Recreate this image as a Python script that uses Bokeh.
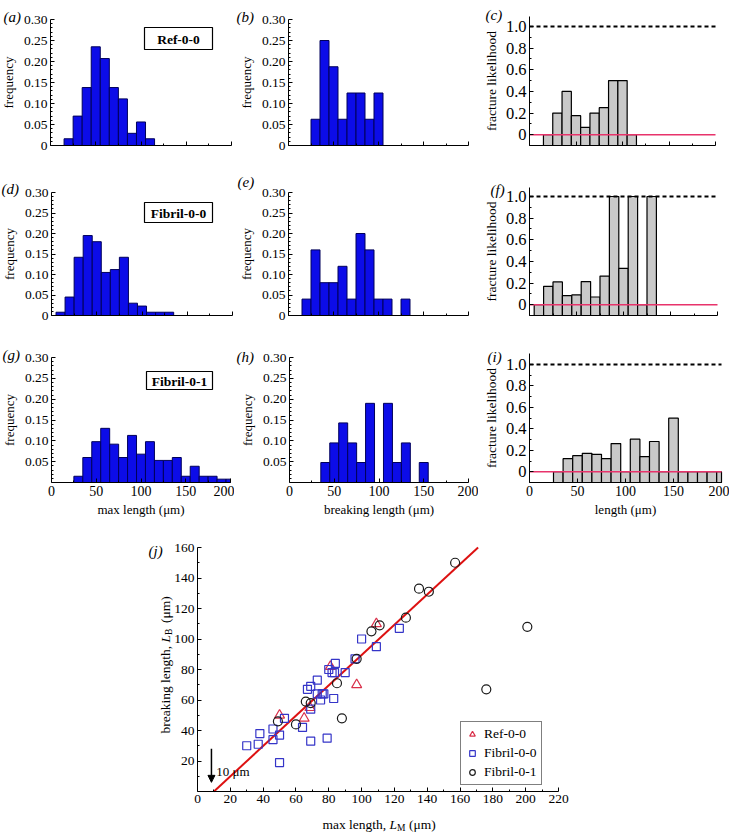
from bokeh.plotting import figure
from bokeh.layouts import column, row
from bokeh.models import (Range1d, FixedTicker, Label, BoxAnnotation, Arrow, LinearAxis,
                          NormalHead, Legend, LegendItem, CustomJSTickFormatter, ColumnDataSource)
from bokeh.embed import file_html
from bokeh.resources import INLINE
import math

SERIF = "Liberation Serif"
BLUE = "#0c0ce8"
BLUE_EDGE = "#00005a"
GRAY = "#c9c9c9"
RED_LINE = "#e8336b"

# ---------------- data ----------------
BIN_W = 10
HIST_X = (0, 200)
# Ref-0-0
a_bins = [15, 25, 35, 45, 55, 65, 75, 85, 95, 105]
a_freq = [0.016, 0.070, 0.138, 0.235, 0.207, 0.138, 0.111, 0.029, 0.056, 0.016]
b_bins = [25, 35, 45, 55, 65, 75, 85, 95]
b_freq = [0.0625, 0.25, 0.1875, 0.0625, 0.125, 0.125, 0.0625, 0.125]
c_bins = [15, 25, 35, 45, 55, 65, 75, 85, 95, 105]
c_like = [0.0, 0.20, 0.40, 0.176, 0.067, 0.20, 0.25, 0.50, 0.50, 0.0]
# Fibril-0-0
d_bins = [5, 15, 25, 35, 45, 55, 65, 75, 85, 95, 105, 115, 125]
d_freq = [0.008, 0.045, 0.142, 0.195, 0.180, 0.105, 0.112, 0.142, 0.030, 0.023, 0.008, 0.008, 0.008]
e_bins = [15, 25, 35, 45, 55, 65, 75, 85, 95, 105, 115, 125]
e_freq = [0.04, 0.16, 0.08, 0.08, 0.12, 0.04, 0.20, 0.16, 0.04, 0.04, 0.0, 0.04]
f_bins = [5, 15, 25, 35, 45, 55, 65, 75, 85, 95, 105, 115, 125]
f_like = [0.0, 0.17, 0.21, 0.084, 0.09, 0.214, 0.071, 0.264, 1.0, 0.335, 1.0, 0.0, 1.0]
# Fibril-0-1
g_bins = [25, 35, 45, 55, 65, 75, 85, 95, 105, 115, 125, 135, 145, 155, 165, 175, 185, 195]
g_freq = [0.015, 0.060, 0.098, 0.130, 0.092, 0.060, 0.113, 0.068, 0.098, 0.053, 0.053, 0.060,
          0.015, 0.039, 0.015, 0.015, 0.008, 0.008]
h_bins = [35, 45, 55, 65, 75, 85, 95, 105, 115, 125, 135, 145]
h_freq = [0.048, 0.095, 0.143, 0.095, 0.048, 0.190, 0.0, 0.190, 0.048, 0.095, 0.0, 0.048]
i_bins = [25, 35, 45, 55, 65, 75, 85, 95, 105, 115, 125, 135, 145, 155, 165, 175, 185, 195]
i_like = [0.0, 0.122, 0.150, 0.172, 0.163, 0.122, 0.263, 0.0, 0.304, 0.141, 0.282, 0.0,
          0.50, 0.0, 0.0, 0.0, 0.0, 0.0]
like_zero = 0.0      # red reference line
like_one = 1.0       # dashed certainty line

# ticks
hist_xticks = [0, 50, 100, 150, 200]
hist_xminor = [25, 75, 125, 175]
freq_ticks = [0, 0.05, 0.10, 0.15, 0.20, 0.25, 0.30]
freq_ticks_nozero = [0.05, 0.10, 0.15, 0.20, 0.25, 0.30]
freq_minor = [0.01, 0.02, 0.03, 0.04, 0.06, 0.07, 0.08, 0.09, 0.11, 0.12, 0.13, 0.14,
              0.16, 0.17, 0.18, 0.19, 0.21, 0.22, 0.23, 0.24, 0.26, 0.27, 0.28, 0.29]
like_ticks = [0, 0.2, 0.4, 0.6, 0.8, 1.0]
like_minor = [-0.1, 0.1, 0.3, 0.5, 0.7, 0.9]

# scatter (j)
ref_x = [50, 65, 68.5, 81, 97, 109]
ref_y = [50, 48, 55, 82, 70, 110]
f00_x = [30, 37, 38, 46, 46, 50, 50, 53, 64, 69, 79, 67, 69, 73, 69, 73, 75, 76, 77, 83,
         80, 82, 84, 83.5, 90, 96, 100, 109, 123]
f00_y = [30, 31, 38, 34, 41, 37, 19, 48, 42, 33, 35, 67, 69, 73, 54, 64, 60, 64, 64, 61,
         80, 78, 84, 78, 78, 87, 100, 95, 107]
f01_x = [49, 60, 66, 69, 85, 88, 97, 106, 111, 127, 135, 141, 157, 176, 201]
f01_y = [46, 44, 59, 58, 71, 48, 87, 105, 109, 114, 133, 131, 150, 67, 108]
fit_x = [10, 171]
fit_y = [0, 160]
j_xticks = [0, 20, 40, 60, 80, 100, 120, 140, 160, 180, 200, 220]
j_xminor = [10, 30, 50, 70, 90, 110, 130, 150, 170, 190, 210]
j_yticks = [20, 40, 60, 80, 100, 120, 140, 160]
j_yminor = [10, 30, 50, 70, 90, 110, 130, 150]


def make_fig(w, h, px0, px1, x0, x1, py_top, py_bot, y_top, y_bot):
    """Figure whose frame is the whole canvas; data box (x0..x1, y_bot..y_top)
    is mapped onto canvas pixels (px0..px1, py_bot..py_top)."""
    sx = (px1 - px0) / (x1 - x0)
    sy = (py_bot - py_top) / (y_top - y_bot)
    xs, xe = x0 - px0 / sx, x0 + (w - px0) / sx
    ye, ys = y_top + py_top / sy, y_top - (h - py_top) / sy
    p = figure(width=w, height=h, output_backend="svg", toolbar_location=None,
               x_range=Range1d(xs, xe), y_range=Range1d(ys, ye),
               x_axis_location=None, y_axis_location=None,
               min_border=0, min_border_left=0, min_border_right=0,
               min_border_top=0, min_border_bottom=0)
    p.outline_line_color = None
    p.grid.visible = False
    fx = lambda cx: xs + cx / sx
    fy = lambda cy: ye - cy / sy
    return p, fx, fy


def style_axis(ax):
    ax.axis_line_color = "black"
    ax.axis_line_width = 1
    ax.major_tick_in = 4
    ax.major_tick_out = 0
    ax.minor_tick_in = 2
    ax.minor_tick_out = 0
    ax.major_tick_line_color = "black"
    ax.minor_tick_line_color = "black"
    ax.major_label_text_font = SERIF
    ax.major_label_text_color = "black"
    ax.axis_label_text_font = SERIF
    ax.axis_label_text_font_style = "normal"
    ax.axis_label_text_color = "black"
    ax.major_label_standoff = 3
    ax.axis_label_standoff = 3


def add_axes(p, x_at, y_at, xb, yb, xt, xm, yt, ym):
    xa = LinearAxis(fixed_location=x_at, bounds=xb, ticker=FixedTicker(ticks=xt, minor_ticks=xm))
    ya = LinearAxis(fixed_location=y_at, bounds=yb, ticker=FixedTicker(ticks=yt, minor_ticks=ym))
    style_axis(xa)
    style_axis(ya)
    p.add_layout(xa, "below")
    p.add_layout(ya, "left")
    return xa, ya


def txt(p, fx, fy, s, cx, cy, size="15px", style="normal", angle=0.0,
        align="left", baseline="alphabetic"):
    p.add_layout(Label(x=fx(cx), y=fy(cy), text=s, text_font=SERIF, text_font_size=size,
                       text_font_style=style, angle=angle, text_color="black",
                       text_align=align, text_baseline=baseline))


def tag(p, fx, fy, s, cx0, cx1, cy0, cy1):
    p.add_layout(BoxAnnotation(left=fx(cx0), right=fx(cx1), top=fy(cy0), bottom=fy(cy1),
                               fill_color="white", fill_alpha=1, line_color="black",
                               line_width=1.2, line_alpha=1))
    txt(p, fx, fy, s, (cx0 + cx1) / 2, (cy0 + cy1) / 2 + 0.5, size="13.5px", style="bold",
        align="center", baseline="middle")


def freq_panel(w, h, px0, px1, py_top, py_bot, bins, vals, xlabels, yzero, xlabel=None):
    p, fx, fy = make_fig(w, h, px0, px1, HIST_X[0], HIST_X[1], py_top, py_bot, 0.30, 0.0)
    src = ColumnDataSource(dict(left=bins, right=[min(v + BIN_W, HIST_X[1]) for v in bins],
                                top=vals))
    p.quad(left="left", right="right", bottom=0, top="top", source=src,
           fill_color=BLUE, line_color=BLUE_EDGE, line_width=1)
    xa, ya = add_axes(p, 0, 0, HIST_X, (0, 0.30), hist_xticks, hist_xminor,
                      freq_ticks if yzero else freq_ticks_nozero, freq_minor)
    ya.formatter = CustomJSTickFormatter(code="return tick == 0 ? '0' : tick.toFixed(2);")
    ya.major_label_text_font_size = "13.5px"
    ya.axis_label = "frequency"
    ya.axis_label_text_font_size = "13px"
    ya.axis_label_standoff = 5
    ya.major_label_standoff = 3
    if xlabels:
        xa.major_label_text_font_size = "14px"
        xa.axis_label = xlabel
        xa.axis_label_text_font_size = "13px"
    else:
        xa.formatter = CustomJSTickFormatter(code="return '';")
    return p, fx, fy


def like_panel(w, h, px0, px1, py_top, py_bot, bins, vals, y_top, xlabels, xlabel=None):
    p, fx, fy = make_fig(w, h, px0, px1, HIST_X[0], HIST_X[1], py_top, py_bot, 1.0, -0.1)
    src = ColumnDataSource(dict(left=bins, right=[min(v + BIN_W, HIST_X[1]) for v in bins],
                                top=vals))
    p.quad(left="left", right="right", bottom=-0.1, top="top", source=src,
           fill_color=GRAY, line_color="black", line_width=1.2)
    p.line(list(HIST_X), [like_zero, like_zero], line_color=RED_LINE, line_width=1.5)
    p.line(list(HIST_X), [like_one, like_one], line_color="black", line_width=2,
           line_dash="4 3")
    xa, ya = add_axes(p, -0.1, 0, HIST_X, (-0.1, y_top), hist_xticks, hist_xminor,
                      like_ticks, like_minor)
    ya.formatter = CustomJSTickFormatter(code="return tick == 0 ? '0' : tick.toFixed(1);")
    ya.major_label_text_font_size = "16.5px"
    ya.axis_label = "fracture likelihood"
    ya.axis_label_text_font_size = "13.5px"
    ya.axis_label_standoff = 4
    ya.major_label_standoff = 3
    if xlabels:
        xa.major_label_text_font_size = "14px"
        xa.axis_label = xlabel
        xa.axis_label_text_font_size = "13px"
    else:
        xa.formatter = CustomJSTickFormatter(code="return '';")
    return p, fx, fy


# ---------------- row 1 (height 168) ----------------
pa, fx, fy = freq_panel(234, 168, 50, 231, 19, 145, a_bins, a_freq, False, True)
txt(pa, fx, fy, "(a)", 3, 16, style="italic")
tag(pa, fx, fy, "Ref-0-0", 144, 212, 27, 49)
pb, fx, fy = freq_panel(244, 168, 54, 234, 19, 145, b_bins, b_freq, False, True)
txt(pb, fx, fy, "(b)", 2, 16, style="italic")
pc, fx, fy = like_panel(251, 168, 51, 237, 26, 145, c_bins, c_like, 1.09, False)
txt(pc, fx, fy, "(c)", 7, 14, style="italic")

# ---------------- row 2 (height 167) ----------------
pd, fx, fy = freq_panel(234, 167, 51, 232, 24, 147, d_bins, d_freq, False, True)
txt(pd, fx, fy, "(d)", 1, 20, style="italic")
tag(pd, fx, fy, "Fibril-0-0", 144, 212, 34, 54)
pe, fx, fy = freq_panel(244, 167, 54, 234, 24, 147, e_bins, e_freq, False, True)
txt(pe, fx, fy, "(e)", 3, 13, style="italic")
pf, fx, fy = like_panel(251, 167, 51, 239, 28, 147, f_bins, f_like, 1.08, False)
txt(pf, fx, fy, "(f)", 12, 21, style="italic")

# ---------------- row 3 (height 190) ----------------
pg, fx, fy = freq_panel(234, 190, 51, 230, 22, 147, g_bins, g_freq, True, False,
                        "max length (μm)")
txt(pg, fx, fy, "(g)", 2, 19, style="italic")
tag(pg, fx, fy, "Fibril-0-1", 146, 212, 36, 54)
ph, fx, fy = freq_panel(244, 190, 55, 234, 22, 147, h_bins, h_freq, True, False,
                        "breaking length (μm)")
txt(ph, fx, fy, "(h)", 2, 21, style="italic")
pi_, fx, fy = like_panel(251, 190, 51, 243, 29, 147, i_bins, i_like, 1.10, True, "length (μm)")
txt(pi_, fx, fy, "(i)", 9, 21, style="italic")

# ---------------- (j) (height 307) ----------------
pj, fx, fy = make_fig(600, 307, 197, 558, 0, 220, 22, 266, 160, 0)
xa, ya = add_axes(pj, 0, 0, (0, 220), (0, 160), j_xticks, j_xminor, j_yticks, j_yminor)
for ax in (xa, ya):
    ax.major_label_text_font_size = "13.5px"
pj.line(fit_x, fit_y, line_color="#dd1111", line_width=2)
r_ref = pj.scatter(ref_x, ref_y, marker="triangle", size=10, fill_color=None,
                   line_color="#d9304a", line_width=1.2)
r_f00 = pj.scatter(f00_x, f00_y, marker="square", size=8, fill_color=None,
                   line_color="#3535c8", line_width=1.2)
r_f01 = pj.scatter(f01_x, f01_y, marker="circle", size=9, fill_color=None,
                   line_color="#1a1a1a", line_width=1.2)
pj.add_layout(Arrow(end=NormalHead(size=7, fill_color="black", line_color="black"),
                    x_start=8.5, y_start=28, x_end=8.5, y_end=6,
                    line_color="black", line_width=1.5))
pj.add_layout(Label(x=11.4, y=13, text="10 μm", text_font=SERIF, text_font_size="13px",
                    text_color="black", text_align="left", text_baseline="middle"))
legend = Legend(items=[LegendItem(label="Ref-0-0", renderers=[r_ref]),
                       LegendItem(label="Fibril-0-0", renderers=[r_f00]),
                       LegendItem(label="Fibril-0-1", renderers=[r_f01])],
                location=(460, 47), border_line_color="black", border_line_width=1,
                background_fill_alpha=1, label_text_font=SERIF, label_text_font_size="13.5px",
                label_text_color="black",
                glyph_width=14, glyph_height=16, label_height=16, spacing=3, padding=4,
                margin=0, label_standoff=5)
pj.add_layout(legend)
txt(pj, fx, fy, "(j)", 148, 25, style="italic")

# x label: max length, L_M (μm)
txt(pj, fx, fy, "max length, ", 322, 299, size="13.5px")
txt(pj, fx, fy, "L", 389, 299, size="13.5px", style="italic")
txt(pj, fx, fy, "M", 396.5, 302, size="9.5px")
txt(pj, fx, fy, "(μm)", 408.5, 299, size="13.5px")
# y label: breaking length, L_B (μm)
rot = math.pi / 2
txt(pj, fx, fy, "breaking length, ", 165, 208, size="13.5px", angle=rot)
txt(pj, fx, fy, "L", 165, 117, size="13.5px", style="italic", angle=rot)
txt(pj, fx, fy, "B", 168, 109.5, size="9.5px", angle=rot)
txt(pj, fx, fy, "(μm)", 165, 97.5, size="13.5px", angle=rot)

layout = column(row(pa, pb, pc), row(pd, pe, pf), row(pg, ph, pi_), pj)
open("out.html", "w").write(file_html(layout, INLINE))
